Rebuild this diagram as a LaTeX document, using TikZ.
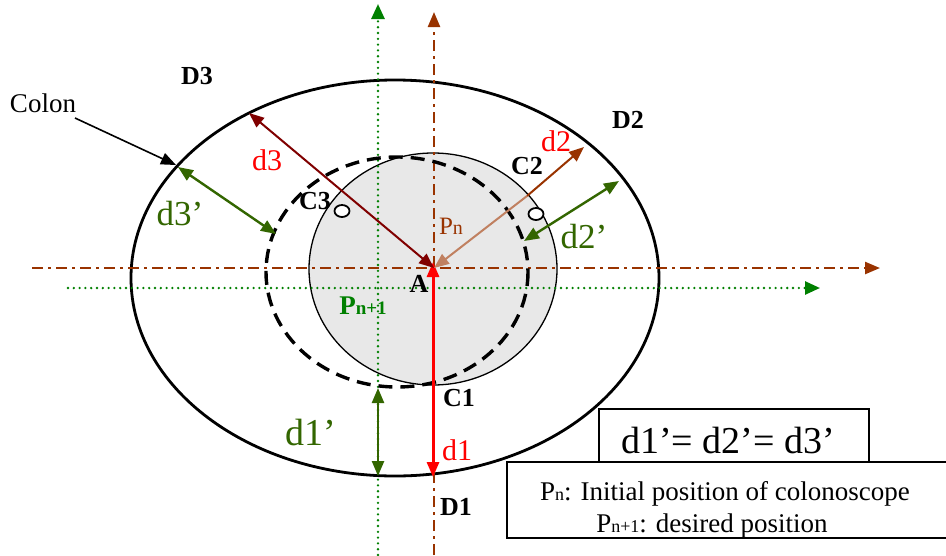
\documentclass[tikz,border=0pt]{standalone}
\usepackage{fontspec}
\setmainfont{Liberation Serif}
\usetikzlibrary{arrows.meta}
\definecolor{brn}{HTML}{993300}
\definecolor{lbrn}{HTML}{C08060}
\definecolor{dred}{HTML}{800000}
\definecolor{dgrn}{HTML}{336600}
\definecolor{grn}{HTML}{008000}
\definecolor{rd}{HTML}{FF0000}
\newcommand\smn[2]{#1{\fontsize{#2}{#2}\selectfont n}}
\begin{document}
\begin{tikzpicture}[x=1pt,y=-1pt,
  axisB/.style={brn,line width=2.4pt,dash pattern=on 11pt off 5pt on 3pt off 5pt,-{Triangle[length=15pt,width=12pt]}},
  axisG/.style={grn,line width=2.6pt,line cap=round,dash pattern=on 0pt off 5.8pt,-{Triangle[length=15pt,width=13pt]}},
  tipA/.style={{Triangle[length=15pt,width=12pt]}-{Triangle[length=15pt,width=12pt]}},
  garrow/.style={dgrn,line width=2.4pt,tipA},
  lbl/.style={inner sep=0pt,font=\fontsize{26}{28}\selectfont\bfseries},
  dlbl/.style={inner sep=0pt,font=\fontsize{30}{32}\selectfont,rd},
  glbl/.style={inner sep=0pt,font=\fontsize{35}{37}\selectfont,dgrn},
  hole/.style={draw=black,line width=1.8pt,fill=white}
]
\useasboundingbox (0,0) rectangle (946,555);
\fill[white] (0,0) rectangle (946,555);

% outer colon
\draw[line width=2.8pt] (395,278) ellipse [x radius=264, y radius=198];
% grey lumen region
\draw[fill=black!9,line width=1.3pt] (433,269) ellipse [x radius=124, y radius=116];

% coordinates
\coordinate (A) at (434,268);
\coordinate (bxL) at (32,268);
\coordinate (bxR) at (880,268);
\coordinate (byB) at (434,555);
\coordinate (byT) at (434,12);
\coordinate (gxL) at (68,288);
\coordinate (gxR) at (820,288);
\coordinate (gyB) at (378,555);
\coordinate (gyT) at (378,4);
\coordinate (D1p) at (433,477);
\coordinate (D2p) at (584,147);
\coordinate (D3p) at (249,113);
\coordinate (Cm) at (527,196);
\coordinate (A1) at (433,262);

% axes
\draw[axisB] (bxL) -- (bxR);
\draw[axisB] (byB) -- (byT);
\draw[axisG] (gxL) -- (gxR);
\draw[axisG] (gyB) -- (gyT);

% dashed circle (desired position)
\draw[line width=3.4pt,dash pattern=on 14pt off 8pt] (397,272) ellipse [x radius=131, y radius=115];

% distance arrows
\draw[rd,line width=3pt,tipA] (A1) -- (D1p);
\draw[dred,line width=2pt,tipA] (A) -- (D3p);
\draw[brn,line width=2pt,-{Triangle[length=15pt,width=12pt]}] (Cm) -- (D2p);
\draw[lbrn,line width=2pt,-{Triangle[length=15pt,width=12pt]}] (Cm) -- (A);

\coordinate (g1a) at (378,388);
\coordinate (g1b) at (378,476);
\coordinate (g2a) at (524,241);
\coordinate (g2b) at (619,181);
\coordinate (g3a) at (178,167);
\coordinate (g3b) at (276,234);
\draw[garrow] (g1a) -- (g1b);
\draw[garrow] (g2a) -- (g2b);
\draw[garrow] (g3a) -- (g3b);

% sensor holes
\draw[hole] (342,211) ellipse [x radius=7.5, y radius=6];
\draw[hole] (536,214) ellipse [x radius=7.5, y radius=6];

% Colon label and arrow
\node[inner sep=0pt,font=\fontsize{27}{29}\selectfont] (colon) at (43,103) {Colon};
\coordinate (colTip) at (176,165);
\draw[line width=1.6pt,-{Triangle[length=15pt,width=12pt]}] (75,118) -- (colTip);

% labels
\node[lbl] (D3) at (197,76) {D3};
\node[lbl] (D2) at (628,120) {D2};
\node[lbl] (D1) at (456,507) {D1};
\node[lbl] (C3) at (315,201) {C3};
\node[lbl] (C2) at (527,166) {C2};
\node[lbl] (C1) at (459,398) {C1};
\node[lbl] (Alb) at (419,284) {A};
\node[inner sep=0pt,font=\fontsize{27}{28}\selectfont\bfseries,grn] (Pn1) at (363,306) {P{\fontsize{19}{19}\selectfont n+1}};
\node[inner sep=0pt,font=\fontsize{25}{26}\selectfont,brn] (Pn) at (451,226) {\smn{P}{20}};
\node[dlbl] (d3) at (267,160) {d3};
\node[dlbl] (d2) at (556,141) {d2};
\node[dlbl] (d1) at (457,450) {d1};
\node[glbl,font=\fontsize{38}{40}\selectfont] (d1p) at (311,432) {d1’};
\node[glbl] (d3p) at (180,214) {d3’};
\node[glbl] (d2p) at (584,237) {d2’};

% boxes
\draw[line width=1.5pt,fill=white] (599,409) rectangle (869,470);
\node[inner sep=0pt,font=\fontsize{38}{40}\selectfont] (eq) at (728,440) {d1’= d2’= d3’};
\draw[line width=1.5pt,fill=white] (507,462) rectangle (952,538);
\begin{scope}
\clip (507,462) rectangle (952,537);
\node[inner sep=0pt,anchor=base,font=\fontsize{27}{29}\selectfont] (leg1) at (725,500) {\smn{P}{18}: Initial position of colonoscope};
\node[inner sep=0pt,anchor=base,font=\fontsize{27}{29}\selectfont] (leg2) at (712,532) {P{\fontsize{18}{18}\selectfont n+1}: desired position};
\end{scope}
\end{tikzpicture}
\end{document}
